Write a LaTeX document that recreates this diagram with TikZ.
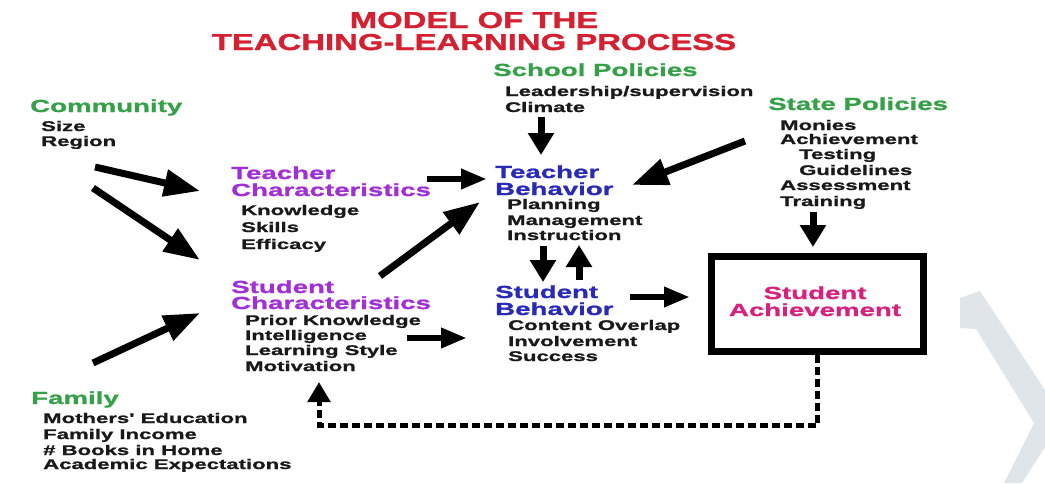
\documentclass[tikz,border=0pt]{standalone}
\usepackage{fontspec}
\setmainfont{Liberation Sans}
\newfontfamily\hv{Liberation Sans}[FakeStretch=1.58, BoldFeatures={FakeBold=1.2}]
\newfontfamily\hvt{Liberation Sans}[FakeStretch=1.43, BoldFeatures={FakeBold=1.5}]
\usetikzlibrary{arrows.meta}
\definecolor{tred}{HTML}{D42030}
\definecolor{tgreen}{HTML}{35A048}
\definecolor{tpurple}{HTML}{A22ED8}
\definecolor{tblue}{HTML}{2A2AB8}
\definecolor{tmag}{HTML}{D8207E}
\definecolor{chev}{HTML}{E0E5E9}
\begin{document}
\begin{tikzpicture}[x=1pt,y=-1pt,
 ttl/.style={anchor=base,inner sep=0pt,font=\hvt\bfseries\fontsize{23}{26}\selectfont,text=tred},
 hd/.style={anchor=base west,inner sep=0pt,font=\hv\bfseries\fontsize{17.5}{20}\selectfont},
 hdc/.style={anchor=base,inner sep=0pt,font=\hv\bfseries\fontsize{17.5}{20}\selectfont,text=tmag},
 itm/.style={anchor=base west,inner sep=0pt,font=\hv\bfseries\fontsize{14}{16}\selectfont,text=black!90},
 bigarrow/.style={line width=7pt,-{Triangle[length=36pt,width=26pt]}},
 shortarrow/.style={line width=6.5pt,-{Triangle[length=26pt,width=19pt]}},
 vertarrow/.style={line width=7pt,-{Triangle[length=22pt,width=25pt]}},
 feedback/.style={line width=5pt,dash pattern=on 8pt off 4pt,-{Triangle[length=20pt,width=22pt]}},
]
\useasboundingbox (0,0) rectangle (1045,483);
% background chevron
\fill[chev] (960,298) -- (980,291) -- (1045,390) -- (1045,447) -- (1022,483) -- (1004,483) -- (1034,423) -- (976,329) -- (960,328) -- cycle;

% title
\node[ttl] (t1) at (474,28) {MODEL OF THE};
\node[ttl] (t2) at (474,50) {TEACHING-LEARNING PROCESS};

% community
\node[hd,text=tgreen] (com) at (30,112) {Community};
\node[itm] (com1) at (41,131) {Size};
\node[itm] (com2) at (41,146) {Region};

% school policies
\node[hd,text=tgreen] (sch) at (493,76) {School Policies};
\node[itm] (sch1) at (505,96) {Leadership/supervision};
\node[itm] (sch2) at (505,112) {Climate};

% state policies
\node[hd,text=tgreen] (sta) at (768,110) {State Policies};
\node[itm] (sta1) at (780,130) {Monies};
\node[itm] (sta2) at (780,144) {Achievement};
\node[itm] (sta3) at (799,159) {Testing};
\node[itm] (sta4) at (799,175) {Guidelines};
\node[itm] (sta5) at (780,190) {Assessment};
\node[itm] (sta6) at (780,206) {Training};

% teacher characteristics
\node[hd,text=tpurple] (tc1) at (231,179) {Teacher};
\node[hd,text=tpurple] (tc2) at (231,196) {Characteristics};
\node[itm] (tca) at (241,215) {Knowledge};
\node[itm] (tcb) at (241,232) {Skills};
\node[itm] (tcc) at (241,249) {Efficacy};

% teacher behavior
\node[hd,text=tblue] (tb1) at (495,178) {Teacher};
\node[hd,text=tblue] (tb2) at (495,195) {Behavior};
\node[itm] (tba) at (507,209) {Planning};
\node[itm] (tbb) at (507,225) {Management};
\node[itm] (tbc) at (507,240) {Instruction};

% student characteristics
\node[hd,text=tpurple] (sc1) at (231,293) {Student};
\node[hd,text=tpurple] (sc2) at (231,309) {Characteristics};
\node[itm] (sca) at (245,325) {Prior Knowledge};
\node[itm] (scb) at (245,340) {Intelligence};
\node[itm] (scc) at (245,355) {Learning Style};
\node[itm] (scd) at (245,371) {Motivation};

% student behavior
\node[hd,text=tblue] (sb1) at (495,298) {Student};
\node[hd,text=tblue] (sb2) at (495,315) {Behavior};
\node[itm] (sba) at (508,330) {Content Overlap};
\node[itm] (sbb) at (508,346) {Involvement};
\node[itm] (sbc) at (508,361) {Success};

% student achievement
\node[draw,line width=7pt,minimum width=212pt,minimum height=95pt,inner sep=0pt] (sa) at (817.5,304) {};
\node[hdc] (sa1) at (815,299) {Student};
\node[hdc] (sa2) at (815,316) {Achievement};

% family
\node[hd,text=tgreen] (fam) at (31,404) {Family};
\node[itm] (fam1) at (43,423) {Mothers' Education};
\node[itm] (fam2) at (43,439) {Family Income};
\node[itm] (fam3) at (43,455) {\# Books in Home};
\node[itm] (fam4) at (43,469) {Academic Expectations};

% arrow end points
\coordinate (a1s) at (95,167);  \coordinate (a1e) at (200,191);
\coordinate (a2s) at (93,188);  \coordinate (a2e) at (200,260);
\coordinate (a3s) at (93,363);  \coordinate (a3e) at (200,313);
\coordinate (a4s) at (427,179); \coordinate (a4e) at (487,179);
\coordinate (a5s) at (380,276); \coordinate (a5e) at (480,202);
\coordinate (a6s) at (541,117); \coordinate (a6e) at (541,155);
\coordinate (a7s) at (745,141); \coordinate (a7e) at (632,185);
\coordinate (a8s) at (543,246); \coordinate (a8e) at (543,282);
\coordinate (a9s) at (579,280); \coordinate (a9e) at (579,245);
\coordinate (a10s) at (407,338); \coordinate (a10e) at (467,338);
\coordinate (a11s) at (630,297); \coordinate (a11e) at (690,297);
\coordinate (a12s) at (813,212); \coordinate (a12e) at (813,247);
\coordinate (fb1) at (817.5,425);
\coordinate (fb2) at (319,425);
\coordinate (fb3) at (319,382);

\draw[bigarrow] (a1s) -- (a1e);
\draw[bigarrow] (a2s) -- (a2e);
\draw[bigarrow] (a3s) -- (a3e);
\draw[shortarrow] (a4s) -- (a4e);
\draw[bigarrow] (a5s) -- (a5e);
\draw[vertarrow] (a6s) -- (a6e);
\draw[bigarrow] (a7s) -- (a7e);
\draw[vertarrow] (a8s) -- (a8e);
\draw[vertarrow] (a9s) -- (a9e);
\draw[shortarrow] (a10s) -- (a10e);
\draw[shortarrow] (a11s) -- (a11e);
\draw[vertarrow] (a12s) -- (a12e);
\draw[feedback] (sa.south) -- (fb1) -- (fb2) -- (fb3);
\end{tikzpicture}
\end{document}
